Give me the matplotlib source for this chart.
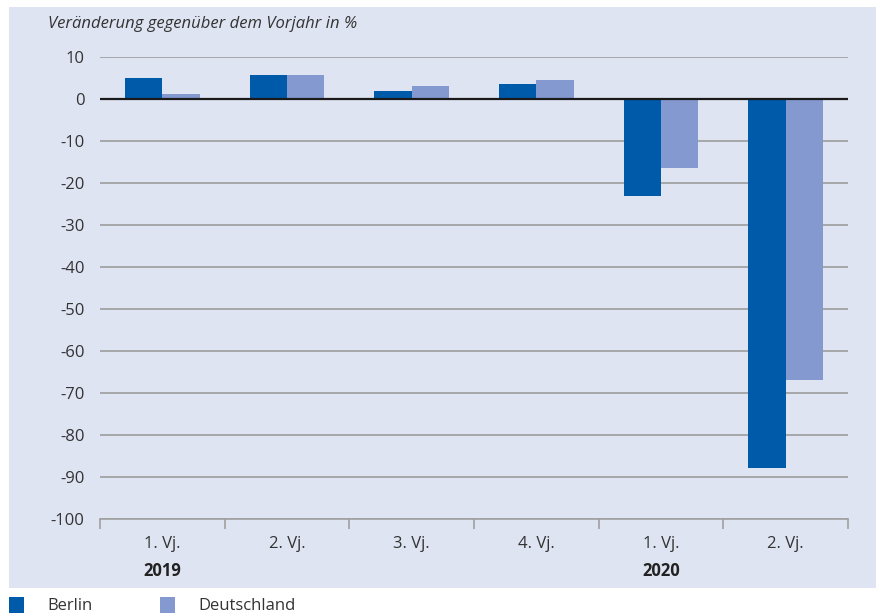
import numpy as np
import matplotlib.pyplot as plt
from matplotlib.patches import Rectangle

plt.rcParams['font.family'] = ['Open Sans', 'DejaVu Sans']

# Veränderung gegenüber dem Vorjahr in %
quarters = ['1. Vj.', '2. Vj.', '3. Vj.', '4. Vj.', '1. Vj.', '2. Vj.']
years = ['2019', '', '', '', '2020', '']
series = ['Berlin', 'Deutschland']
berlin = [5.0, 5.7, 1.9, 3.6, -23.1, -87.9]
deutschland = [1.2, 5.7, 3.1, 4.5, -16.4, -66.9]
colors = ['#005aaa', '#8499cf']

W, H = 876, 613
fig = plt.figure(figsize=(W / 100, H / 100), dpi=100, facecolor='white')

# light blue panel behind the chart
fig.patches.append(Rectangle((9 / W, (H - 588) / H), 1 - 9 / W, (588 - 7) / H,
                             transform=fig.transFigure, facecolor='#dfe4f2',
                             edgecolor='none', zorder=-10))

ax = fig.add_axes([100 / W, (H - 519) / H, (848 - 100) / W, (519 - 57) / H])
ax.set_facecolor('none')
ax.set_zorder(1)

x = np.arange(len(quarters))
bw = 0.3
ax.bar(x - bw / 2, berlin, bw, color=colors[0], zorder=3)
ax.bar(x + bw / 2, deutschland, bw, color=colors[1], zorder=3)
ax.axhline(0, color='#1a1a1a', lw=1.6, zorder=4)

ax.set_xlim(-0.5, len(quarters) - 0.5)
ax.set_ylim(-100, 10)
ax.set_yticks(range(-100, 11, 10))
ax.set_yticklabels([str(v) for v in range(-100, 11, 10)], fontsize=12, color='#333333')
ax.tick_params(axis='y', length=0, pad=11)
ax.yaxis.grid(True, color='#9c9c9c', lw=1.2, zorder=1)

ax.set_xticks(np.arange(-0.5, len(quarters), 1.0))
ax.set_xticklabels([])
ax.tick_params(axis='x', length=7.5, width=1.2, color='#a0a0a0', direction='out')

for side in ['top', 'right', 'left']:
    ax.spines[side].set_visible(False)
ax.spines['bottom'].set_color('#a0a0a0')
ax.spines['bottom'].set_linewidth(1.2)
ax.spines['bottom'].set_zorder(5)

for i, (q, yr) in enumerate(zip(quarters, years)):
    ax.text(i, -0.055, q, transform=ax.get_xaxis_transform(), ha='center', va='center',
            fontsize=12, color='#333333')
    if yr:
        ax.text(i, -0.113, yr, transform=ax.get_xaxis_transform(), ha='center', va='center',
                fontsize=12, fontweight='bold', color='#222222')

fig.text(48 / W, 1 - 24 / H, 'Veränderung gegenüber dem Vorjahr in %', ha='left', va='center',
         fontsize=12, style='italic', color='#333333')

# legend below the panel
for k, (name, c) in enumerate(zip(series, colors)):
    x0 = 9 + k * 151
    fig.patches.append(Rectangle((x0 / W, 0), 15 / W, 16 / H, transform=fig.transFigure,
                                 facecolor=c, edgecolor='none'))
    fig.text((x0 + 38) / W, 1 - 606 / H, name, ha='left', va='center', fontsize=12,
             color='#333333')

fig.savefig('out.png', dpi=100, facecolor='white')
